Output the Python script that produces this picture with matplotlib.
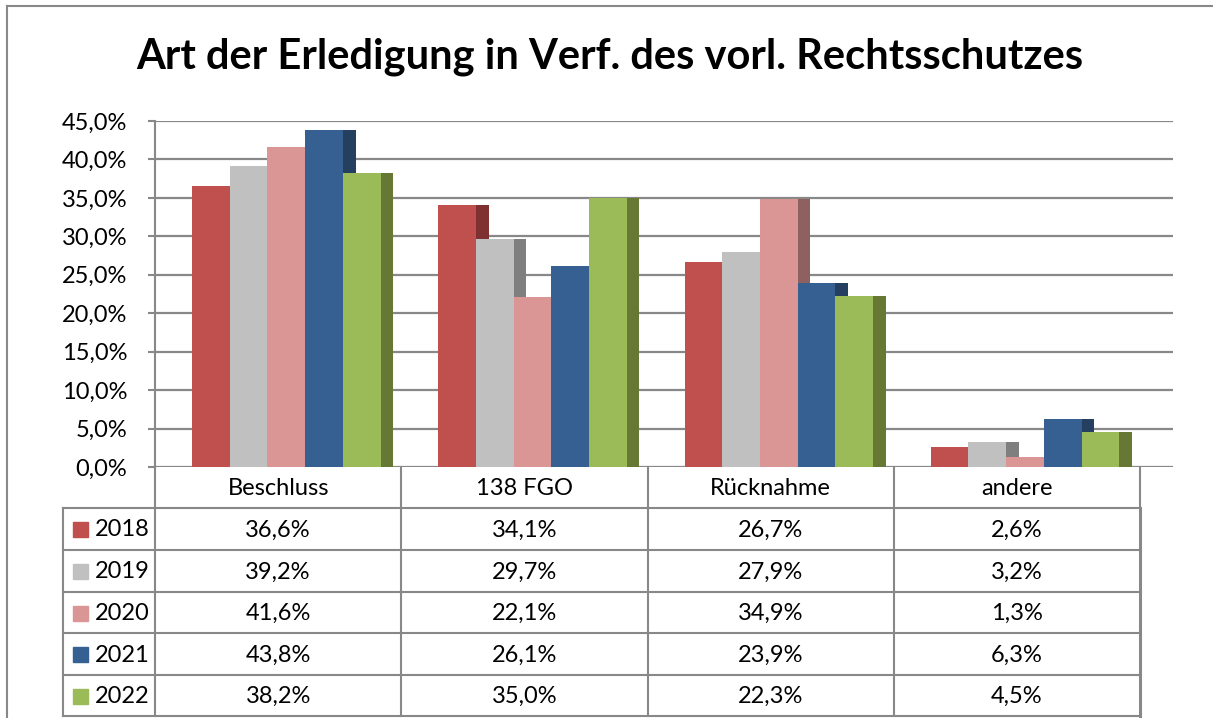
import numpy as np
import matplotlib.pyplot as plt
from matplotlib.lines import Line2D
from matplotlib.patches import Rectangle

plt.rcParams['font.family'] = ['Lato', 'DejaVu Sans']

categories = ['Beschluss', '138 FGO', 'Rücknahme', 'andere']
years = ['2018', '2019', '2020', '2021', '2022']
v2018 = [36.6, 34.1, 26.7, 2.6]
v2019 = [39.2, 29.7, 27.9, 3.2]
v2020 = [41.6, 22.1, 34.9, 1.3]
v2021 = [43.8, 26.1, 23.9, 6.3]
v2022 = [38.2, 35.0, 22.3, 4.5]
series = [v2018, v2019, v2020, v2021, v2022]

front = ['#C0504D', '#C0C0C0', '#DA9694', '#376092', '#9BBB59']
side = ['#7F3030', '#7F7F7F', '#8F6060', '#243F60', '#667834']
grid_c = '#888888'

W, H = 1213, 718
fig = plt.figure(figsize=(W / 100, H / 100), dpi=100)

# layout in pixels
col_left, col_w = 155, 246.25
plot_right, y0, y45 = 1173, 467, 121


def fr(x0, y_top, x1, y_bot):
    return [x0 / W, 1 - y_bot / H, (x1 - x0) / W, (y_bot - y_top) / H]


ax = fig.add_axes(fr(col_left, y45, plot_right, y0))
ax.set_xlim(0, (plot_right - col_left) / col_w)
ax.set_ylim(0, 45)
for s in ['top', 'right', 'bottom']:
    ax.spines[s].set_visible(False)
ax.spines['left'].set_color(grid_c)
ax.spines['left'].set_linewidth(1.5)
ax.set_yticks(np.arange(0, 46, 5))
ax.set_yticklabels([f'{t:.1f}%'.replace('.', ',') for t in np.arange(0, 46, 5)])
ax.tick_params(axis='y', length=5, width=1.5, color=grid_c, labelsize=17, pad=15)
ax.set_xticks([])
for t in np.arange(0, 46, 5):
    ax.axhline(t, color=grid_c, lw=1.6, zorder=0.5)

bw = 37.7 / col_w
sw = 12.7 / col_w
off = 37 / col_w
x = np.arange(len(categories))
for j, vals in enumerate(series):
    xs = x + off + j * bw
    ax.bar(xs, vals, width=bw, align='edge', color=front[j], zorder=2)
    ax.bar(xs + bw, vals, width=sw, align='edge', color=side[j], zorder=2)

# overlay in pixel coords for title, border and data table
ov = fig.add_axes([0, 0, 1, 1], zorder=-1)
ov.set_xlim(0, W)
ov.set_ylim(H, 0)
ov.axis('off')
ov.add_line(Line2D([7, 7], [6, H], color=grid_c, lw=1.5))
ov.add_line(Line2D([7, W], [6, 6], color=grid_c, lw=1.5))
ov.text(610, 57, 'Art der Erledigung in Verf. des vorl. Rechtsschutzes',
        ha='center', va='center', fontsize=30, fontweight='bold')

ov2 = fig.add_axes([0, 0, 1, 1], zorder=3)
ov2.set_xlim(0, W)
ov2.set_ylim(H, 0)
ov2.axis('off')
ov2.patch.set_alpha(0)

row_edges = [467, 508, 550, 592, 633, 675, 716]
col_edges = [col_left + i * col_w for i in range(len(categories) + 1)]
leg_left = 63
# header row
for cx in col_edges:
    ov2.add_line(Line2D([cx, cx], [row_edges[0], row_edges[1]], color=grid_c, lw=1.5))
for i, c in enumerate(categories):
    ov2.text((col_edges[i] + col_edges[i + 1]) / 2, (row_edges[0] + row_edges[1]) / 2 + 1, c,
             ha='center', va='center', fontsize=17)
# data rows
for y in row_edges[1:]:
    ov2.add_line(Line2D([leg_left, col_edges[-1]], [y, y], color=grid_c, lw=1.5))
for cx in [leg_left] + col_edges:
    ov2.add_line(Line2D([cx, cx], [row_edges[1], row_edges[-1]], color=grid_c,
                        lw=2.2 if cx == col_edges[-1] else 1.5))
for j, vals in enumerate(series):
    yc = (row_edges[j + 1] + row_edges[j + 2]) / 2 + 1
    ov2.add_patch(Rectangle((73, yc - 8), 15, 15, color=front[j]))
    ov2.text(95, yc, years[j], ha='left', va='center', fontsize=17)
    for i, v in enumerate(vals):
        ov2.text((col_edges[i] + col_edges[i + 1]) / 2, yc, f'{v:.1f}%'.replace('.', ','),
                 ha='center', va='center', fontsize=17)

fig.savefig('out.png', dpi=100)
